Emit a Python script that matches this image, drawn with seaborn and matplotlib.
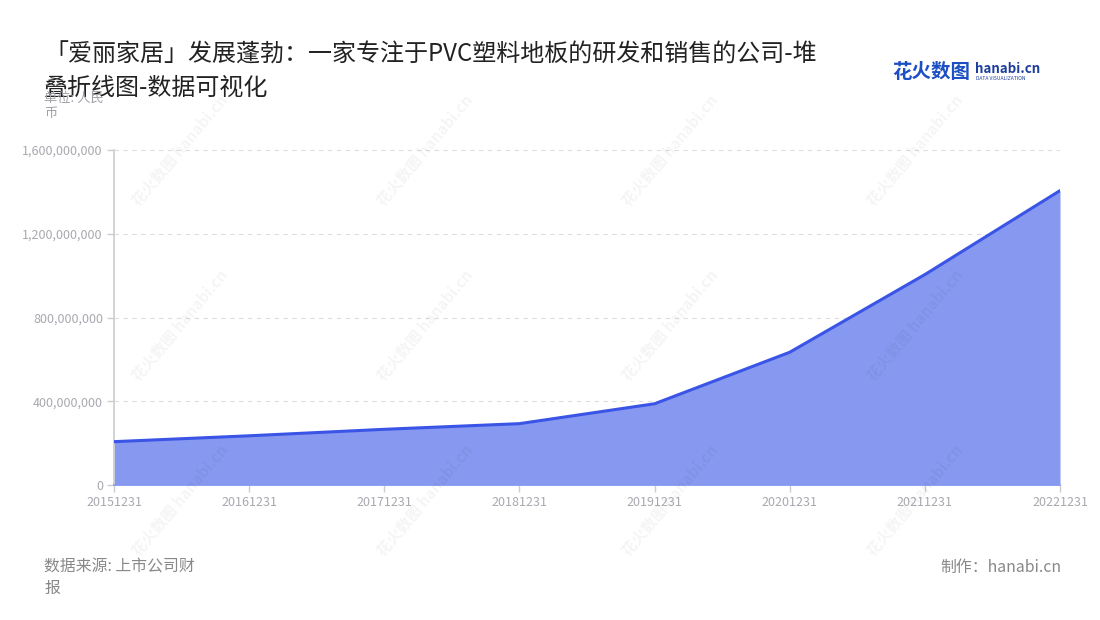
import pandas as pd
import numpy as np
import matplotlib
matplotlib.use("Agg")
import matplotlib.pyplot as plt
import seaborn as sns
from matplotlib.ticker import FuncFormatter

# Data (营业收入, 人民币)
dates = ["20151231", "20161231", "20171231", "20181231",
         "20191231", "20201231", "20211231", "20221231"]
values = [207e6, 235e6, 266e6, 293e6, 388e6, 634e6, 1005e6, 1406e6]
y_ticks = [0, 400e6, 800e6, 1200e6, 1600e6]

title_line1 = "「爱丽家居」发展蓬勃：一家专注于PVC塑料地板的研发和销售的公司-堆"
title_line2 = "叠折线图-数据可视化"
unit_lines = ["单位: 人民", "币"]
source_lines = ["数据来源: 上市公司财", "报"]
credit = "制作：hanabi.cn"

line_color = "#3a55e6"
fill_color = "#8798f0"

sns.set_theme(style="white")
plt.rcParams["font.family"] = ["Noto Sans CJK SC", "DejaVu Sans"]

df = pd.DataFrame({"date": dates, "value": values})
df["pos"] = range(len(df))

fig = plt.figure(figsize=(11, 6.2), dpi=100)
ax = fig.add_axes([114 / 1100, 1 - 485 / 620, 946 / 1100, 335 / 620])

# Watermarks
for wy in [150, 325, 500]:
    for wx in [180, 425, 670, 915]:
        fig.text(wx / 1100, 1 - wy / 620, "花火数图 hanabi.cn", rotation=50,
                 ha="center", va="center", fontsize=11, fontweight="bold",
                 color="#000000", alpha=0.045, zorder=0)

ax.fill_between(df["pos"], df["value"], 0, color=fill_color, linewidth=0, zorder=2)
sns.lineplot(data=df, x="pos", y="value", ax=ax, color=line_color,
             linewidth=2.2, zorder=3)

ax.set_xlim(0, len(df) - 1)
ax.set_ylim(0, 1600e6)
ax.set_xticks(df["pos"])
ax.set_xticklabels(df["date"])
ax.set_yticks(y_ticks)
ax.yaxis.set_major_formatter(FuncFormatter(lambda v, p: f"{int(v):,}"))
ax.set_xlabel("")
ax.set_ylabel("")
ax.patch.set_alpha(0)

ax.grid(axis="y", color="#dddddd", linestyle=(0, (4, 4)), linewidth=0.8)
ax.grid(axis="x", visible=False)
for s in ["top", "right"]:
    ax.spines[s].set_visible(False)
ax.spines["left"].set_color("#cccccc")
ax.spines["left"].set_linewidth(1.2)
ax.spines["bottom"].set_color(fill_color)
ax.spines["bottom"].set_linewidth(1.2)
ax.tick_params(axis="both", which="both", length=5, width=1, color="#cccccc",
               labelcolor="#a8a8b0", labelsize=9, pad=3,
               left=True, bottom=True)

# Title
fig.text(44 / 1100, 1 - 55 / 620, title_line1, fontsize=17.3, color="#222222",
         va="center", ha="left")
fig.text(44 / 1100, 1 - 88 / 620, title_line2, fontsize=17.3, color="#222222",
         va="center", ha="left")

# Unit label
fig.text(44 / 1100, 1 - 98 / 620, unit_lines[0], fontsize=9.5, color="#a0a0a8",
         va="center", ha="left")
fig.text(44 / 1100, 1 - 114 / 620, unit_lines[1], fontsize=9.5, color="#a0a0a8",
         va="center", ha="left")

# Footer
fig.text(44 / 1100, 1 - 567 / 620, source_lines[0], fontsize=11.4, color="#888888",
         va="center", ha="left")
fig.text(44 / 1100, 1 - 588 / 620, source_lines[1], fontsize=11.4, color="#888888",
         va="center", ha="left")
fig.text(1061 / 1100, 1 - 567 / 620, credit, fontsize=11.4, color="#888888",
         va="center", ha="right")

# Logo
fig.text(892 / 1100, 1 - 72 / 620, "花火数图", fontsize=14, fontweight="bold",
         color="#1d4fc4", va="center", ha="left")
fig.text(975 / 1100, 1 - 69 / 620, "hanabi.cn", fontsize=9.6, fontweight="bold",
         color="#1d3f9c", va="center", ha="left")
fig.text(976 / 1100, 1 - 79 / 620, "DATA VISUALIZATION", fontsize=3.6,
         color="#1d3f9c", va="center", ha="left")

fig.savefig("out.png", dpi=100)
